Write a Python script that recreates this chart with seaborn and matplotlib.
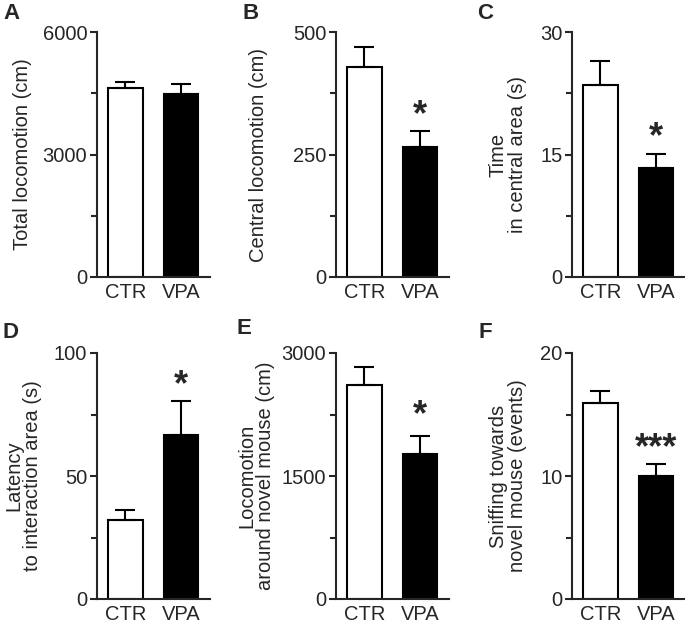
import numpy as np
import matplotlib
matplotlib.use('Agg')
import matplotlib.pyplot as plt
import pandas as pd
import seaborn as sns

# groups and panel data (mean, SEM)
groups = ['CTR', 'VPA']
letters = ['A', 'B', 'C', 'D', 'E', 'F']
ylabels = ['Total locomotion (cm)', 'Central locomotion (cm)', 'Time\nin central area (s)',
           'Latency\nto interaction area (s)', 'Locomotion\naround novel mouse (cm)',
           'Sniffing towards\nnovel mouse (events)']
means = [[4630, 4480], [428, 265], [23.5, 13.3], [32.1, 66.7], [2610, 1768], [15.9, 10.0]]
sems = [[146, 245], [41, 33], [2.9, 1.8], [4.1, 13.8], [219, 220], [1.0, 1.0]]
ymax = [6000, 500, 30, 100, 3000, 20]
stars = ['', '*', '*', '*', '*', '***']
star_y = [0, 341, 17.8, 89, 2305, 12.7]

sns.set_style('ticks')
plt.rcParams['font.family'] = ['Liberation Sans', 'DejaVu Sans']

W, H = 685, 625
fig = plt.figure(figsize=(6.85, 6.25), dpi=100)

lefts = [97, 336, 572]
tops = [32, 353]
bottoms = [277, 599]
axw = 113
label_x = [22, 258, 508, 23, 256, 508]
letter_pos = [(3, 3), (242, 3), (477, 3), (3, 322), (236, 318), (479, 322)]

for i in range(6):
    r, c = divmod(i, 3)
    left, top, bot = lefts[c], tops[r], bottoms[r]
    ax = fig.add_axes([left / W, 1 - bot / H, axw / W, (bot - top) / H])
    sns.barplot(x=groups, y=means[i], hue=groups, palette=['white', 'black'], saturation=1,
                edgecolor='black', linewidth=1.5, width=0.62, errorbar=None, legend=False, ax=ax)
    ax.errorbar([0, 1], means[i], yerr=[[0, 0], sems[i]], fmt='none', ecolor='black',
                elinewidth=1.5, capsize=7, capthick=1.5, zorder=1)
    ax.set_xlim(-0.51, 1.52)
    ax.set_ylim(0, ymax[i])
    ax.set_yticks([0, ymax[i] / 2, ymax[i]])
    ax.set_yticklabels([f'{v:g}' for v in [0, ymax[i] / 2, ymax[i]]])
    ax.set_yticks([ymax[i] / 4, ymax[i] * 3 / 4], minor=True)
    sns.despine(ax=ax)
    for s in ['left', 'bottom']:
        ax.spines[s].set_linewidth(1.5)
    ax.tick_params(axis='y', which='major', length=5, width=1.5, labelsize=14.5, pad=2)
    ax.tick_params(axis='y', which='minor', length=4, width=1.5)
    ax.tick_params(axis='x', length=0, labelsize=14.5, pad=4)
    ax.set_xlabel('')
    ax.set_ylabel(ylabels[i], fontsize=14.5, linespacing=1.0)
    ax.yaxis.label.set_va('center')
    ax.yaxis.set_label_coords((label_x[i] - left) / axw, 0.5)
    if stars[i]:
        ax.annotate(stars[i], (1, star_y[i]), xytext=(0, -4), textcoords='offset points',
                    ha='center', va='center', fontsize=26, fontweight='bold')
    lx, ly = letter_pos[i]
    fig.text(lx / W, 1 - ly / H, letters[i], fontsize=16, fontweight='bold', ha='left', va='top')

fig.savefig('out.png', dpi=100)
